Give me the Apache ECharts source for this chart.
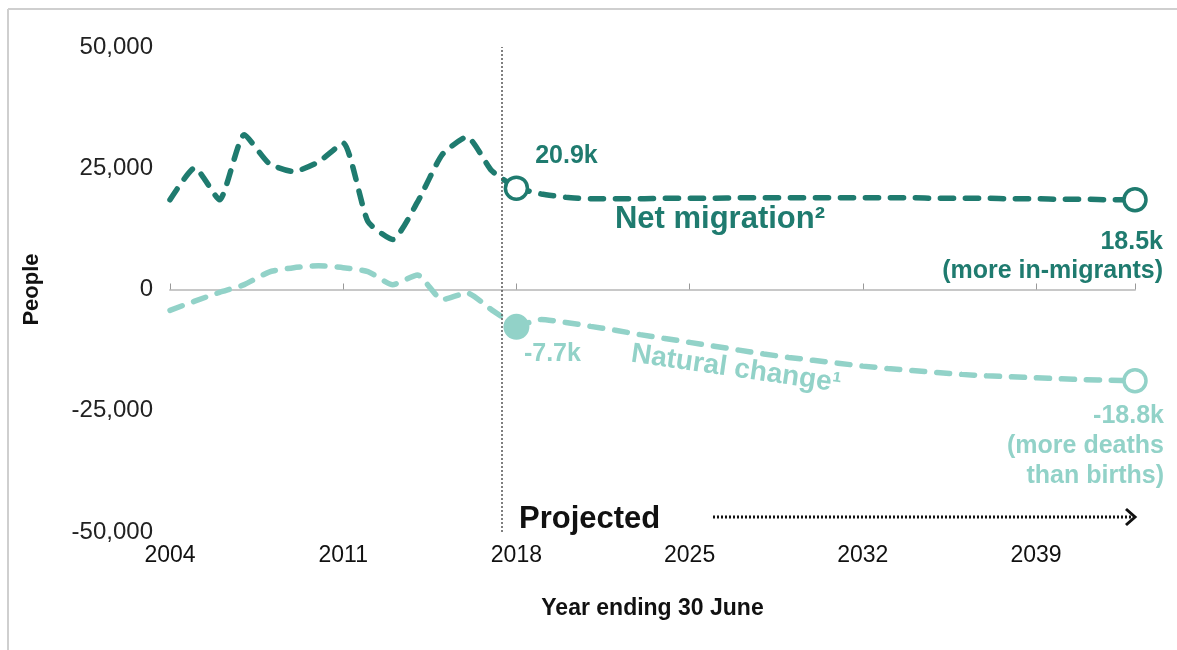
<!DOCTYPE html>
<html>
<head>
<meta charset="utf-8">
<script src="https://cdn.jsdelivr.net/npm/echarts@6/dist/echarts.min.js"></script>
<style>
html,body{margin:0;padding:0;background:#fff}
#main{width:1177px;height:650px}
</style>
</head>
<body>
<div id="main"></div>
<script>
// year ending 30 June
var histYears = [2004, 2005, 2006, 2007, 2008, 2009, 2010, 2011, 2012, 2013, 2014, 2015, 2016, 2017, 2018];
var projYears = [2018, 2019, 2020, 2021, 2022, 2023, 2024, 2025, 2026, 2027, 2028, 2029, 2030,
    2031, 2032, 2033, 2034, 2035, 2036, 2037, 2038, 2039, 2040, 2041, 2042, 2043];

var migHist = [18500, 25100, 18500, 31900, 26000, 24300, 26300, 30200, 14000, 10300, 18000, 27800, 31500, 24500, 20900];
var migProj = [20900, 19700, 19000, 18700, 18700, 18700, 18800, 18800, 18800, 18900, 18900, 18900, 18900,
    18900, 18900, 18900, 18900, 18800, 18800, 18800, 18700, 18700, 18600, 18600, 18500, 18500];

var natHist = [-4300, -2400, -600, 1000, 3600, 4500, 4900, 4500, 3700, 1000, 3000, -2100, -700, -4200, -7700];
var natProj = [-7700, -6200, -6800, -7600, -8400, -9300, -10100, -10900, -11700, -12500, -13300, -14000, -14600,
    -15200, -15800, -16300, -16700, -17100, -17500, -17800, -18000, -18200, -18400, -18600, -18700, -18800];

var projectionStart = 2017.4;
var yTicks = [-50000, -25000, 0, 25000, 50000];

var dark = '#1f7b6f';
var light = '#92d2c8';
var font = 'Liberation Sans, Arial, sans-serif';

function pairs(xs, ys) {
    var out = [];
    for (var i = 0; i < xs.length; i++) out.push([xs[i], ys[i]]);
    return out;
}
function fmtK(v) {
    return (v / 1000).toFixed(1) + 'k';
}
var lastP = projYears.length - 1;

var myChart = echarts.init(document.getElementById('main'));

var dashed = function (c) {
    return {color: c, width: 5.5, type: [13, 12], cap: 'round'};
};

var option = {
    backgroundColor: '#fff',
    animation: false,
    grid: {left: 170, right: 42, top: 47, bottom: 118},
    xAxis: [
        {
            type: 'value', min: 2004, max: 2043, interval: 7,
            name: 'Year ending 30 June', nameLocation: 'middle', nameGap: 65,
            nameTextStyle: {fontFamily: font, fontSize: 23, fontWeight: 'bold', color: '#111'},
            axisLine: {show: false, onZero: false},
            axisTick: {show: false},
            splitLine: {show: false},
            axisLabel: {
                fontFamily: font, fontSize: 23, color: '#111', margin: 12, showMaxLabel: false,
                formatter: function (v) { return String(v); }
            }
        },
        {
            type: 'value', min: 2004, max: 2043, interval: 7,
            axisLine: {show: true, onZero: true, lineStyle: {color: '#c8c8c8', width: 2}},
            axisTick: {show: true, length: 6, lineStyle: {color: '#999', width: 1}},
            splitLine: {show: false},
            axisLabel: {show: false, showMaxLabel: false}
        }
    ],
    yAxis: {
        type: 'value', min: yTicks[0], max: yTicks[yTicks.length - 1], interval: 25000,
        name: 'People', nameLocation: 'middle', nameGap: 127, nameRotate: 90,
        nameTextStyle: {fontFamily: font, fontSize: 22, fontWeight: 'bold', color: '#111'},
        axisLine: {show: false},
        axisTick: {show: false},
        splitLine: {show: false},
        axisLabel: {
            fontFamily: font, fontSize: 24, color: '#222', margin: 17,
            formatter: function (v) { return v.toLocaleString('en-US'); }
        }
    },
    series: [
        {
            name: 'Net migration', type: 'line', smooth: 0.18, symbol: 'none', z: 2,
            data: pairs(histYears, migHist),
            lineStyle: dashed(dark),
            markLine: {
                silent: true, symbol: 'none', label: {show: false},
                lineStyle: {color: '#555', width: 1.5, type: [2, 2]},
                data: [{xAxis: projectionStart}]
            }
        },
        {
            name: 'Net migration projected', type: 'line', smooth: 0.18, symbol: 'none', z: 2,
            data: pairs(projYears, migProj),
            lineStyle: dashed(dark)
        },
        {
            name: 'Natural change', type: 'line', smooth: 0.18, symbol: 'none', z: 2,
            data: pairs(histYears, natHist),
            lineStyle: dashed(light)
        },
        {
            name: 'Natural change projected', type: 'line', smooth: 0.18, symbol: 'none', z: 2,
            data: pairs(projYears, natProj),
            lineStyle: dashed(light)
        },
        {
            name: 'Net migration points', type: 'scatter', z: 4, symbol: 'circle', symbolSize: 22,
            itemStyle: {color: '#fff', borderColor: dark, borderWidth: 3.5, opacity: 1},
            label: {
                show: true, position: 'inside', fontFamily: font, fontWeight: 'bold',
                fontSize: 25, color: dark, lineHeight: 29, opacity: 1
            },
            data: [
                {
                    value: [projYears[0], migProj[0]],
                    label: {align: 'center', verticalAlign: 'middle', offset: [50, -32],
                        formatter: function (p) { return fmtK(p.value[1]); }}
                },
                {
                    value: [projYears[lastP], migProj[lastP]],
                    label: {align: 'right', verticalAlign: 'top', offset: [28, 28],
                        formatter: function (p) { return fmtK(p.value[1]) + '\n(more in-migrants)'; }}
                }
            ]
        },
        {
            name: 'Natural change points', type: 'scatter', z: 4, symbol: 'circle',
            itemStyle: {opacity: 1},
            label: {
                show: true, position: 'inside', fontFamily: font, fontWeight: 'bold',
                fontSize: 25, color: light, lineHeight: 30, opacity: 1
            },
            data: [
                {
                    value: [projYears[0], natProj[0]], symbolSize: 26,
                    itemStyle: {color: light, borderWidth: 0, opacity: 1},
                    label: {align: 'center', verticalAlign: 'middle', offset: [36, 27],
                        formatter: function (p) { return fmtK(p.value[1]); }}
                },
                {
                    value: [projYears[lastP], natProj[lastP]], symbolSize: 22,
                    itemStyle: {color: '#fff', borderColor: light, borderWidth: 3.5, opacity: 1},
                    label: {align: 'right', verticalAlign: 'top', offset: [29, 20],
                        formatter: function (p) { return fmtK(p.value[1]) + '\n(more deaths\nthan births)'; }}
                }
            ]
        }
    ],
    graphic: [
        // frame
        {type: 'line', shape: {x1: 8, y1: 9, x2: 1177, y2: 9}, style: {stroke: '#cfcfcf', lineWidth: 2}, silent: true},
        {type: 'line', shape: {x1: 8, y1: 9, x2: 8, y2: 650}, style: {stroke: '#cfcfcf', lineWidth: 2}, silent: true},
        {
            type: 'text', x: 720, y: 219,
            style: {text: 'Net migration²', fill: dark, font: 'bold 31px ' + font,
                align: 'center', verticalAlign: 'middle', textAlign: 'center', textVerticalAlign: 'middle'}
        },
        {
            type: 'text', x: 736, y: 369, rotation: -0.143,
            style: {text: 'Natural change¹', fill: light, font: 'bold 28px ' + font,
                align: 'center', verticalAlign: 'middle', textAlign: 'center', textVerticalAlign: 'middle'}
        },
        {
            type: 'text', x: 519, y: 519,
            style: {text: 'Projected', fill: '#111', font: 'bold 31px ' + font,
                align: 'left', verticalAlign: 'middle', textAlign: 'left', textVerticalAlign: 'middle'}
        },
        {
            type: 'polyline', shape: {points: [[713, 517], [1132, 517]]},
            style: {stroke: '#111', lineWidth: 3, lineDash: [2, 2]}, silent: true
        },
        {
            type: 'polyline', shape: {points: [[1126, 509], [1135, 517], [1126, 525]]},
            style: {stroke: '#111', lineWidth: 3, fill: null}, silent: true
        }
    ]
};
myChart.setOption(option);
</script>
</body>
</html>
